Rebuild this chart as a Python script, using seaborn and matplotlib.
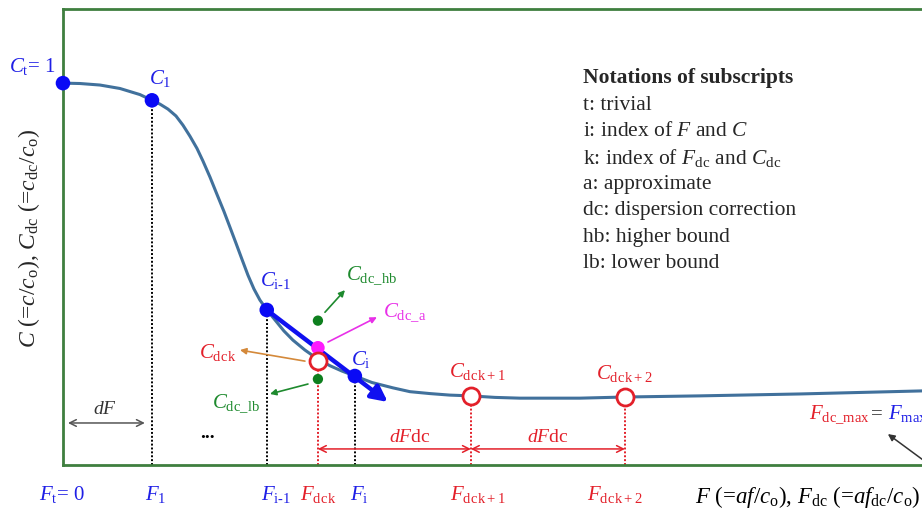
import matplotlib
matplotlib.use("Agg")
import matplotlib.pyplot as plt
import seaborn as sns

# curve (F in units of dF, C = c/co)
curve_F = [0.0, 0.191, 0.416, 0.640, 0.865, 1.000, 1.090, 1.180, 1.270, 1.348,
           1.427, 1.506, 1.573, 1.652, 1.730, 1.809, 1.876, 1.944, 2.011, 2.079,
           2.146, 2.213, 2.292, 2.382, 2.483, 2.584, 2.719, 2.865, 3.000, 3.135,
           3.281, 3.472, 3.708, 3.899, 4.124, 4.348, 4.584, 4.854, 5.135, 5.472,
           5.809, 6.315, 7.157, 8.281, 9.652, 10.528]
curve_C = [1.000, 0.999, 0.995, 0.986, 0.970, 0.955, 0.945, 0.932, 0.914, 0.890,
           0.861, 0.829, 0.796, 0.754, 0.709, 0.664, 0.623, 0.581, 0.539, 0.497,
           0.461, 0.432, 0.406, 0.380, 0.351, 0.327, 0.301, 0.277, 0.260, 0.246,
           0.233, 0.216, 0.202, 0.192, 0.187, 0.183, 0.181, 0.177, 0.175, 0.175,
           0.175, 0.178, 0.181, 0.186, 0.194, 0.196]

# blue grid points: Ft, F1, Fi-1, Fi
grid_F = [0.0, 1.0, 2.29, 3.28]
grid_C = [1.0, 0.955, 0.406, 0.233]

# red dispersion-correction points: Fdc_k, Fdc_k+1, Fdc_k+2
dc_F = [2.865, 4.584, 6.315]
dc_C = [0.272, 0.181, 0.178]

# bounds and approximation at Fdc_k
hb_C = 0.378
lb_C = 0.225
approx_C = 0.307
slope_end = (3.65, 0.165)

BLUE = "#1F1FE6"
RED = "#E3202A"
GREEN = "#1E8A2E"
PINK = "#E830E8"
ORANGE = "#D4893A"
CURVE = "#41719C"
FRAME = "#3F7F3F"

sns.set_style("white")
plt.rcParams["font.family"] = ["Liberation Serif", "DejaVu Serif"]
plt.rcParams["mathtext.fontset"] = "custom"
plt.rcParams["mathtext.rm"] = "Liberation Serif"
plt.rcParams["mathtext.it"] = "Liberation Serif:italic"
plt.rcParams["mathtext.bf"] = "Liberation Serif:bold"

fig = plt.figure(figsize=(9.22, 5.10), dpi=100)
ax = fig.add_axes([0.0683, 0.0863, 1.0163, 0.894])
ax.set_xlim(0, 10.53)
ax.set_ylim(0, 1.194)
for s in ax.spines.values():
    s.set_color(FRAME)
    s.set_linewidth(2)
ax.set_xticks([])
ax.set_yticks([])

# dotted drop lines
ax.vlines(grid_F[1:], 0, grid_C[1:], colors="black", linestyles=(0, (1, 1)), lw=1.4)
ax.vlines(dc_F, 0, dc_C, colors=RED, linestyles=(0, (1, 1)), lw=1.4)

sns.lineplot(x=curve_F, y=curve_C, ax=ax, color=CURVE, lw=2.2, zorder=3)

# slope from C_i-1 through C_i
ax.annotate("", xy=slope_end, xytext=(grid_F[2], grid_C[2]),
            arrowprops=dict(arrowstyle="-|>", lw=3.2, color="#1010F0",
                            mutation_scale=24, shrinkA=0, shrinkB=0), zorder=4)

sns.scatterplot(x=grid_F, y=grid_C, ax=ax, color="#0A0AF5", s=110,
                edgecolor="none", zorder=6, clip_on=False)
sns.scatterplot(x=dc_F, y=dc_C, ax=ax, color="white", s=150,
                edgecolor=RED, linewidth=2, zorder=6)
sns.scatterplot(x=[dc_F[0]], y=[approx_C], ax=ax, color="#FF1AFF", s=95,
                edgecolor="none", zorder=5)
sns.scatterplot(x=[dc_F[0], dc_F[0]], y=[hb_C, lb_C], ax=ax, color="#0E7F1E",
                s=55, edgecolor="none", zorder=5)

fs = 15
# point labels
ax.text(-0.35, 1.031, r"$C_\mathrm{t}$= 1", color=BLUE, fontsize=fs, ha="center")
ax.text(1.09, 1.0, r"$C_\mathrm{1}$", color=BLUE, fontsize=fs, ha="center")
ax.text(2.39, 0.471, r"$C_\mathrm{i\text{-}1}$", color=BLUE, fontsize=fs, ha="center")
ax.text(3.35, 0.264, r"$C_\mathrm{i}$", color=BLUE, fontsize=fs, ha="center")
ax.text(3.18, 0.487, r"$C_\mathrm{dc\_hb}$", color=GREEN, fontsize=fs)
ax.text(3.60, 0.390, r"$C_\mathrm{dc\_a}$", color=PINK, fontsize=fs)
ax.text(1.955, 0.283, r"$C_\mathrm{dc}{}_\mathrm{k}$", color=RED, fontsize=fs, ha="right")
ax.text(1.674, 0.152, r"$C_\mathrm{dc\_lb}$", color=GREEN, fontsize=fs)
ax.text(4.66, 0.233, r"$C_\mathrm{dc}{}_\mathrm{k+1}$", color=RED, fontsize=fs, ha="center")
ax.text(6.31, 0.228, r"$C_\mathrm{dc}{}_\mathrm{k+2}$", color=RED, fontsize=fs, ha="center")

# small pointer arrows
def pointer(start, end, color):
    ax.annotate("", xy=end, xytext=start,
                arrowprops=dict(arrowstyle="-|>", lw=1.2, color=color,
                                mutation_scale=9, shrinkA=0, shrinkB=0))

pointer((2.944, 0.400), (3.169, 0.458), GREEN)
pointer((2.978, 0.322), (3.528, 0.387), PINK)
pointer((2.719, 0.272), (1.989, 0.301), ORANGE)
pointer((2.753, 0.212), (2.326, 0.186), GREEN)

# spacing arrows
def span(x0, x1, y, color):
    ax.annotate("", xy=(x1, y), xytext=(x0, y),
                arrowprops=dict(arrowstyle="<->", lw=1.1, color=color,
                                mutation_scale=12, shrinkA=0, shrinkB=0))

span(0.056, 0.92, 0.110, "#555555")
ax.text(0.47, 0.135, r"$dF$", color="#333333", fontsize=14, ha="center")
ax.text(1.62, 0.072, "...", color="black", fontsize=14, ha="center", fontweight="bold")
span(dc_F[0], dc_F[1], 0.042, RED)
span(dc_F[1], dc_F[2], 0.042, RED)
ax.text(3.90, 0.064, r"$dF$dc", color=RED, fontsize=14, ha="center")
ax.text(5.45, 0.064, r"$dF$dc", color=RED, fontsize=14, ha="center")

# Fdc_max = Fmax
ax.text(9.07, 0.122, r"$F_\mathrm{dc\_max}$", color=RED, fontsize=fs, ha="right")
ax.text(9.15, 0.122, "=", color="#333333", fontsize=fs, ha="center")
ax.text(9.27, 0.122, r"$F_\mathrm{max}$", color=BLUE, fontsize=fs, ha="left")
ax.annotate("", xy=(9.27, 0.081), xytext=(9.80, -0.01),
            arrowprops=dict(arrowstyle="-|>", lw=1.1, color="#333333",
                            mutation_scale=10, shrinkA=0, shrinkB=0),
            annotation_clip=False)

# x position labels
ylab = -0.090
xlabels = [(-0.01, r"$F_\mathrm{t}$= 0", BLUE), (1.045, r"$F_\mathrm{1}$", BLUE),
           (2.39, r"$F_\mathrm{i\text{-}1}$", BLUE),
           (2.865, r"$F_\mathrm{dc}{}_\mathrm{k}$", RED),
           (3.33, r"$F_\mathrm{i}$", BLUE),
           (4.66, r"$F_\mathrm{dc}{}_\mathrm{k+1}$", RED),
           (6.20, r"$F_\mathrm{dc}{}_\mathrm{k+2}$", RED)]
for x, s, c in xlabels:
    ax.text(x, ylab, s, color=c, fontsize=fs, ha="center", clip_on=False)

ax.text(7.10, -0.097, r"$F$ (=$af$/$c_\mathrm{o}$), $F_\mathrm{dc}$ (=$af_\mathrm{dc}$/$c_\mathrm{o}$)",
        color="black", fontsize=16.5, ha="left", clip_on=False)
ax.text(-0.036, 0.5, r"$C$ (=$c$/$c_\mathrm{o}$), $C_\mathrm{dc}$ (=$c_\mathrm{dc}$/$c_\mathrm{o}$)",
        transform=ax.transAxes, rotation=90, fontsize=17, ha="center", va="center",
        clip_on=False)

# notation block
notes = ["t: trivial", r"i: index of $F$ and $C$",
         r"k: index of $F_\mathrm{dc}$ and $C_\mathrm{dc}$", "a: approximate",
         "dc: dispersion correction", "hb: higher bound", "lb: lower bound"]
ax.text(5.84, 1.016, "Notations of subscripts", fontsize=15.5, fontweight="bold",
        va="center")
for i, line in enumerate(notes):
    ax.text(5.84, 0.945 - i * 0.0692, line, fontsize=15.5, va="center")

fig.savefig("out.png", dpi=100)
